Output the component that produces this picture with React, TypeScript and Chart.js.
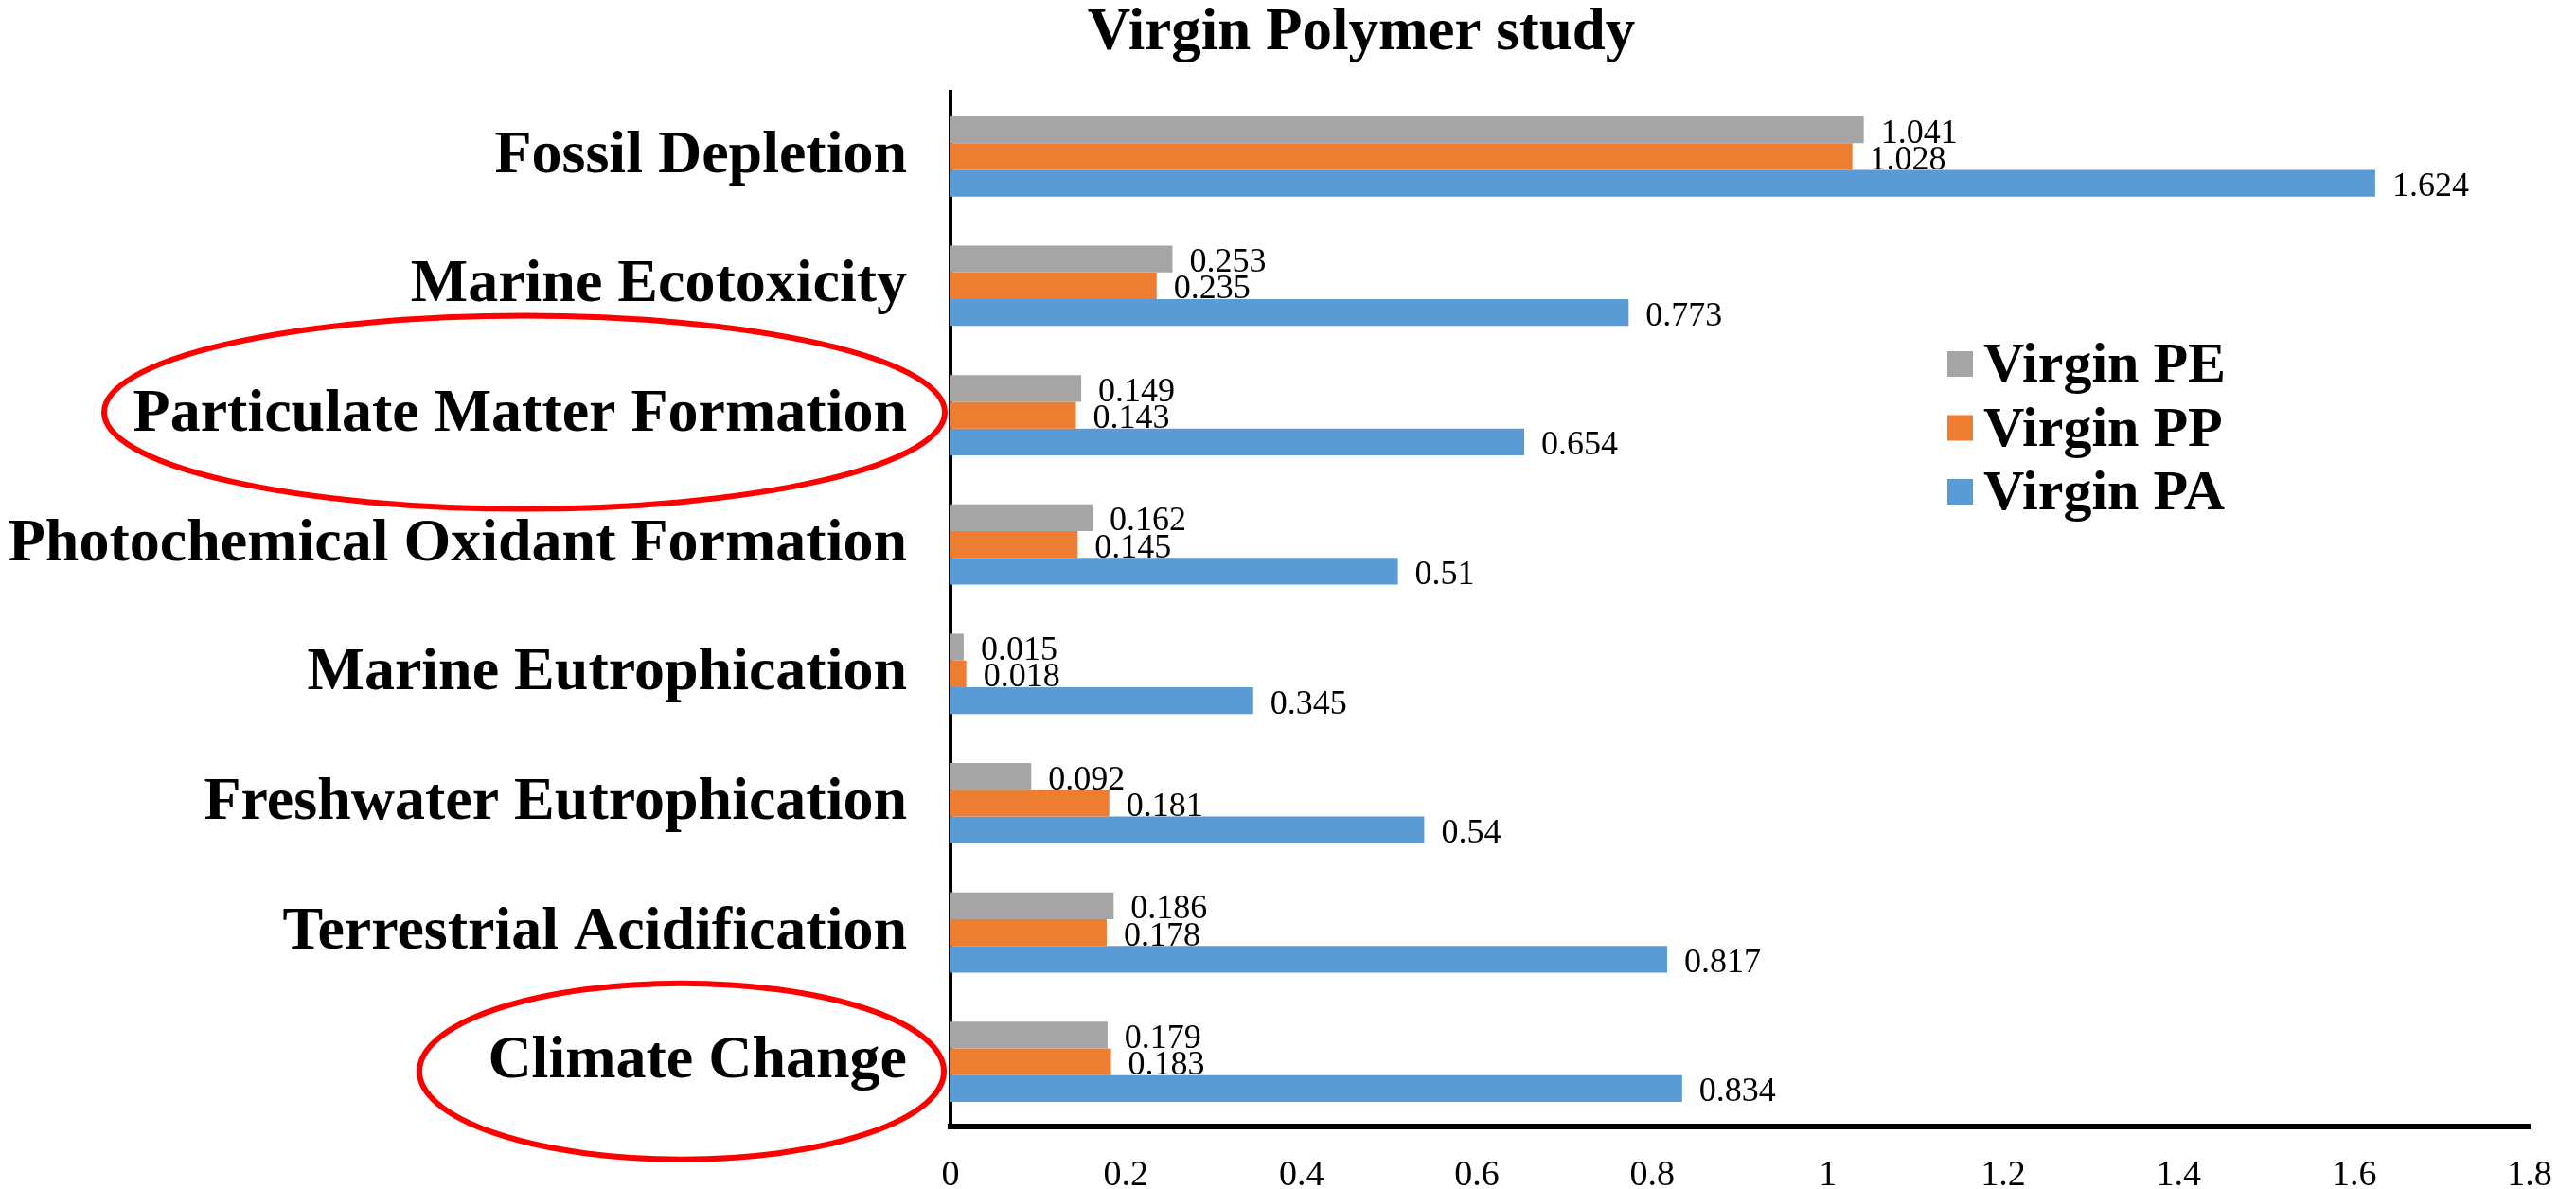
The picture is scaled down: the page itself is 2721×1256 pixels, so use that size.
import React, { useEffect, useRef } from "react";
import { Chart, registerables } from "chart.js";

Chart.register(...registerables);

const chartTitle = "Virgin Polymer study";
const categories = [
  "Fossil Depletion",
  "Marine Ecotoxicity",
  "Particulate Matter Formation",
  "Photochemical Oxidant Formation",
  "Marine Eutrophication",
  "Freshwater Eutrophication",
  "Terrestrial Acidification",
  "Climate Change",
];
const seriesNames = ["Virgin PE", "Virgin PP", "Virgin PA"];
const seriesColors = ["#A5A5A5", "#ED7D31", "#5B9BD5"];
const virginPE = [1.041, 0.253, 0.149, 0.162, 0.015, 0.092, 0.186, 0.179];
const virginPP = [1.028, 0.235, 0.143, 0.145, 0.018, 0.181, 0.178, 0.183];
const virginPA = [1.624, 0.773, 0.654, 0.51, 0.345, 0.54, 0.817, 0.834];
const xTickValues = [0, 0.2, 0.4, 0.6, 0.8, 1, 1.2, 1.4, 1.6, 1.8];
const xTickLabels = ["0", "0.2", "0.4", "0.6", "0.8", "1", "1.2", "1.4", "1.6", "1.8"];
const highlightedCategories = ["Particulate Matter Formation", "Climate Change"];

const SERIF = "'Liberation Serif', 'Times New Roman', serif";
const W = 2721;
const H = 1256;

// geometry of decorations (pixels)
const ellipseGeom: Record<string, { cx: number; rx: number; dy: number; ry: number }> = {
  "Particulate Matter Formation": { cx: 554, rx: 444, dy: -3, ry: 102 },
  "Climate Change": { cx: 720, rx: 277, dy: 10, ry: 93 },
};

const decorPlugin = {
  id: "decor",
  afterDatasetsDraw(chart: any) {
    const ctx = chart.ctx as CanvasRenderingContext2D;
    ctx.save();
    ctx.font = `36px ${SERIF}`;
    ctx.fillStyle = "#000";
    ctx.textAlign = "left";
    ctx.textBaseline = "middle";
    chart.data.datasets.forEach((ds: any, di: number) => {
      const meta = chart.getDatasetMeta(di);
      meta.data.forEach((el: any, i: number) => {
        ctx.fillText(String(ds.data[i]), el.x + 18, el.y + 4);
      });
    });
    ctx.restore();
  },
  afterDraw(chart: any) {
    const ctx = chart.ctx as CanvasRenderingContext2D;
    const yScale = chart.scales.y;
    ctx.save();
    // title
    ctx.font = `bold 63px ${SERIF}`;
    ctx.fillStyle = "#000";
    ctx.textAlign = "center";
    ctx.textBaseline = "alphabetic";
    ctx.fillText(chartTitle, 1438, 52);
    // legend
    const lx = 2057;
    const ly0 = 384;
    const lstep = 67.5;
    ctx.font = `bold 60px ${SERIF}`;
    ctx.textAlign = "left";
    ctx.textBaseline = "alphabetic";
    chart.data.datasets.forEach((ds: any, i: number) => {
      const y = ly0 + i * lstep;
      ctx.fillStyle = ds.backgroundColor;
      ctx.fillRect(lx, y - 13, 27, 27);
      ctx.fillStyle = "#000";
      ctx.fillText(ds.label, lx + 38, y + 19);
    });
    // highlight ellipses
    ctx.strokeStyle = "#FF0000";
    ctx.lineWidth = 6;
    highlightedCategories.forEach((cat) => {
      const idx = categories.indexOf(cat);
      const g = ellipseGeom[cat];
      const cy = yScale.getPixelForValue(idx) + g.dy;
      ctx.beginPath();
      ctx.ellipse(g.cx, cy, g.rx, g.ry, 0, 0, Math.PI * 2);
      ctx.stroke();
    });
    ctx.restore();
  },
};

export default function App() {
  const canvasRef = useRef<HTMLCanvasElement | null>(null);

  useEffect(() => {
    if (!canvasRef.current) return;
    const seriesValues = [virginPE, virginPP, virginPA];
    const chart = new Chart(canvasRef.current, {
      type: "bar",
      data: {
        labels: categories,
        datasets: seriesNames.map((name, i) => ({
          label: name,
          data: seriesValues[i],
          backgroundColor: seriesColors[i],
          borderWidth: 0,
          barPercentage: 1,
          categoryPercentage: 0.62,
        })),
      },
      options: {
        indexAxis: "y",
        responsive: false,
        animation: false,
        devicePixelRatio: 1,
        layout: { padding: { top: 97, right: 49, left: 0, bottom: 0 } },
        plugins: {
          legend: { display: false },
          title: { display: false },
          tooltip: { enabled: false },
        },
        scales: {
          x: {
            type: "linear",
            min: 0,
            max: 1.8,
            afterBuildTicks: (scale: any) => {
              scale.ticks = xTickValues.map((v) => ({ value: v }));
            },
            afterFit: (scale: any) => {
              scale.height = 66;
              scale.paddingLeft = 0;
              scale.paddingRight = 0;
            },
            grid: { display: false, drawTicks: false },
            border: { display: true, color: "#000", width: 6 },
            ticks: {
              padding: 29,
              color: "#000",
              maxRotation: 0,
              font: { family: SERIF, size: 38 },
              callback: (value: any) => {
                const i = xTickValues.findIndex((v) => Math.abs(v - Number(value)) < 1e-9);
                return i >= 0 ? xTickLabels[i] : "";
              },
            },
          },
          y: {
            afterFit: (scale: any) => {
              scale.width = 1004;
              scale.paddingTop = 0;
              scale.paddingBottom = 0;
            },
            grid: { display: false, drawTicks: false },
            border: { display: true, color: "#000", width: 4 },
            ticks: {
              padding: 46,
              color: "#000",
              autoSkip: false,
              font: { family: SERIF, size: 64, weight: "bold" },
            },
          },
        },
      },
      plugins: [decorPlugin],
    });
    return () => chart.destroy();
  }, []);

  return (
    <div style={{ position: "absolute", left: 0, top: 0, width: W, height: H, background: "#fff" }}>
      <canvas ref={canvasRef} width={W} height={H} style={{ width: W, height: H, display: "block" }} />
    </div>
  );
}
